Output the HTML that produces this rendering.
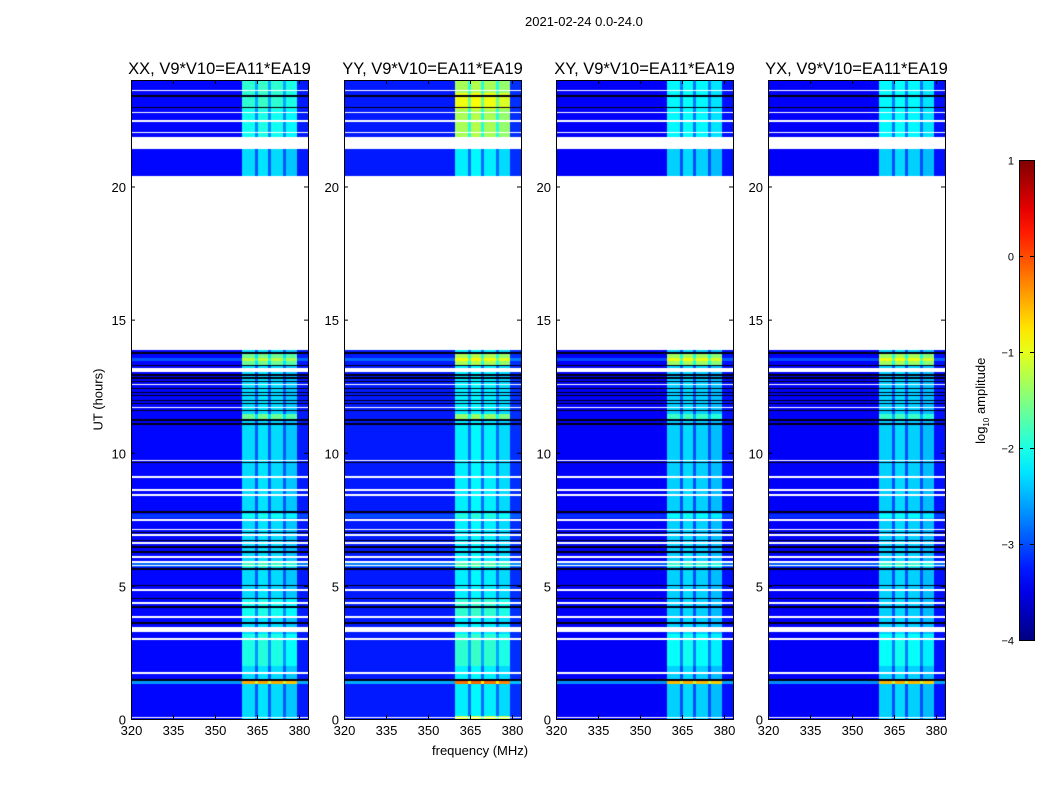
<!DOCTYPE html>
<html><head><meta charset="utf-8">
<style>
body{margin:0;background:#fff;font-family:"Liberation Sans",sans-serif;}
#root{position:relative;width:1050px;height:800px;overflow:hidden;background:#fff;}
.t{position:absolute;font-size:13px;color:#000;white-space:nowrap;}
canvas{position:absolute;}
</style></head>
<body>
<div id="root">
<div class="t" style="left:525px;top:14px;">2021-02-24 0.0-24.0</div>
<div class="t" style="left:432px;top:743px;">frequency (MHz)</div>
<div class="t" style="left:60px;top:392px;transform:rotate(-90deg);transform-origin:center;width:76px;text-align:center;">UT (hours)</div>
<div class="t" style="left:932px;top:392px;transform:rotate(-90deg);transform-origin:center;width:100px;text-align:center;">log<sub style="font-size:8px">10</sub> amplitude</div>
<svg id="ov" width="1050" height="800" style="position:absolute;left:0;top:0;"></svg>
</div>
<script>
// ---- data ----
const panelTitles = ["XX, V9*V10=EA11*EA19","YY, V9*V10=EA11*EA19","XY, V9*V10=EA11*EA19","YX, V9*V10=EA11*EA19"];
const xTicks = [320,335,350,365,380];
const yTicks = [0,5,10,15,20];
const cbTicks = [1,0,-1,-2,-3,-4];
const baseLevel = [-3.35,-3.25,-3.4,-3.4];
// frequency channels (MHz start) and band offsets
const chanStart = [320,359.8,364.2,365.3,369.1,370.1,374.3,375.4,379.3];
const chanOffset= [0,1.05,0.4,1.1,0.4,1.05,0.4,0.95,0.1];
// extra boost inside the band for time ranges: [start,end,boost] per panel
const bandBoost = [
 [[21.4,24,0.25],[13.3,13.75,0.7],[11.25,11.45,0.7],[1.3,1.48,1.1],[2.0,3.2,0.3],[3.8,4.5,0.25],[22.9,24,0.4]],
 [[21.4,24,0.9],[22.9,23.5,1.25],[13.3,13.75,0.9],[11.25,11.45,0.8],[1.3,1.48,1.3],[2.0,3.2,0.3],[3.8,4.5,0.3],[0,0.1,1.1]],
 [[21.4,24,0.2],[13.3,13.75,1.0],[11.25,11.45,0.5],[1.3,1.48,1.1],[2.0,3.2,0.25]],
 [[21.4,24,0.2],[13.3,13.75,1.0],[11.25,11.45,0.5],[1.3,1.48,1.1],[2.0,3.2,0.25]]
];
// whole-row boosts (all frequencies)
const rowBoost = [[1.3,1.48,0.9],[5.7,5.9,0.6],[13.45,13.55,0.5],[7.55,7.7,0.3]];
// flagged (white) time ranges
const whiteRanges = [[13.85,20.4],[21.4,21.85],[23.57,23.63],[22.75,22.81],[22.42,22.48],[22.0,22.06],
 [13.05,13.2],[12.55,12.6],[11.68,11.73],[9.68,9.74],[9.06,9.12],[8.58,8.64],[8.38,8.44],[7.45,7.52],[7.08,7.13],
 [6.88,6.93],[6.58,6.63],[6.06,6.12],[5.86,5.92],[5.73,5.78],[4.82,4.88],[4.33,4.38],[3.78,3.88],[3.27,3.45],[2.98,3.03],[1.7,1.76],[0.03,0.08]];
// black (zero) rows
const blackRanges = [[23.35,23.42],[22.93,23.0],[13.7,13.78],[13.25,13.3],[12.9,12.95],[12.78,12.83],[12.66,12.7],[12.4,12.45],
 [12.25,12.3],[12.12,12.17],[11.95,12.0],[11.82,11.87],[11.55,11.6],[11.2,11.25],[11.05,11.12],[9.62,9.67],[7.72,7.82],[6.98,7.03],
 [6.68,6.72],[6.44,6.48],[6.25,6.3],[5.6,5.66],[4.98,5.03],[4.52,4.56],[4.18,4.23],[3.58,3.63],[1.43,1.49],[21.4,21.44]];
// ---- layout ----
const panelLeft=[131,344,556,768], PW=177, PT=80, PB=719, PH=PB-PT;
const fx = f => (f-320)*2.8;
const fy = h => PH - h*(PH/24);
function jet(t){t=Math.max(0,Math.min(1,t));
 const r=Math.min(4*t-1.5,-4*t+4.5),g=Math.min(4*t-0.5,-4*t+3.5),b=Math.min(4*t+0.5,-4*t+2.5);
 return [r,g,b].map(v=>Math.round(255*Math.max(0,Math.min(1,v))));}
function inR(list,h){for(const r of list){if(h>=r[0]&&h<r[1])return r;}return null;}
const root=document.getElementById('root');
const ov=document.getElementById('ov');
const NS='http://www.w3.org/2000/svg';
function sv(tag,attrs,parent){const e=document.createElementNS(NS,tag);for(const k in attrs)e.setAttribute(k,attrs[k]);(parent||ov).appendChild(e);return e;}
panelTitles.forEach((title,p)=>{
 const cv=document.createElement('canvas');cv.width=PW;cv.height=PH;
 cv.style.left=panelLeft[p]+'px';cv.style.top=PT+'px';
 
 
 root.insertBefore(cv,ov);
 const ctx=cv.getContext('2d');const img=ctx.createImageData(PW,PH);
 for(let y=0;y<PH;y++){
  const h=(PH-y-0.5)*24/PH;
  let type=inR(whiteRanges,h)?'w':(inR(blackRanges,h)?'k':'d');
  let rb=0;for(const r of rowBoost)if(h>=r[0]&&h<r[1])rb+=r[2];
  let bb=0;for(const r of bandBoost[p])if(h>=r[0]&&h<r[1])bb=Math.max(bb,r[2]);
  for(let x=0;x<PW;x++){
   const f=320+(x+0.5)/2.8;const i=(y*PW+x)*4;let c;
   if(type==='w')c=[255,255,255];else if(type==='k')c=[0,0,20];
   else{let k=0;for(let j=0;j<chanStart.length;j++)if(f>=chanStart[j])k=j;
    let v=baseLevel[p]+chanOffset[k]+rb*0.8+(k>0&&k<8?bb:0);
    c=jet((v+4)/5);}
   img.data[i]=c[0];img.data[i+1]=c[1];img.data[i+2]=c[2];img.data[i+3]=255;}
 }
 ctx.putImageData(img,0,0);
 const L=panelLeft[p];
 const g=sv('g',{});
 
 
 sv('rect',{x:L+0.5,y:PT+0.5,width:PW,height:PH,fill:'none',stroke:'#000','stroke-width':1},g);
 const tt=sv('text',{x:L+PW/2,y:74,'text-anchor':'middle','font-size':16.5,'font-family':'Liberation Sans'},g);
 tt.textContent=title;
 
 
 xTicks.forEach(v=>{const X=L+fx(v)+0.5;
  sv('line',{x1:X,x2:X,y1:PB,y2:PB-4,stroke:'#000'},g);sv('line',{x1:X,x2:X,y1:PT,y2:PT+4,stroke:'#000'},g);
  const t=sv('text',{x:X,y:PB+16,'text-anchor':'middle','font-size':13,'font-family':'Liberation Sans'},g);t.textContent=v;
  
  });
 yTicks.forEach(v=>{const Y=PT+fy(v)+0.5;
  sv('line',{x1:L,x2:L+4,y1:Y,y2:Y,stroke:'#000'},g);sv('line',{x1:L+PW,x2:L+PW-4,y1:Y,y2:Y,stroke:'#000'},g);
  const t=sv('text',{x:L-5,y:Y+5,'text-anchor':'end','font-size':13,'font-family':'Liberation Sans'},g);t.textContent=v;
  
  });
});
// colorbar
const CBx=1019,CBw=15,CBt=160,CBb=640;
const defs=sv('defs',{});const lg=sv('linearGradient',{id:'jg',x1:0,y1:1,x2:0,y2:0},defs);
for(let i=0;i<=20;i++){const c=jet(i/20);sv('stop',{offset:i/20,'stop-color':'rgb('+c.join(',')+')'},lg);}
const cb=sv('rect',{x:CBx+0.5,y:CBt+0.5,width:CBw,height:CBb-CBt,fill:'url(#jg)',stroke:'#000'});


cbTicks.forEach(v=>{const Y=CBt+(1-v)/5*(CBb-CBt)+0.5;
 sv('line',{x1:CBx,x2:CBx+4,y1:Y,y2:Y,stroke:'#000'});sv('line',{x1:CBx+CBw,x2:CBx+CBw-4,y1:Y,y2:Y,stroke:'#000'});
 const t=sv('text',{x:CBx-5,y:Y+4,'text-anchor':'end','font-size':11,'font-family':'Liberation Sans'});t.textContent=v<0?'\u2212'+(-v):v;
 
 });
</script>
</body></html>
